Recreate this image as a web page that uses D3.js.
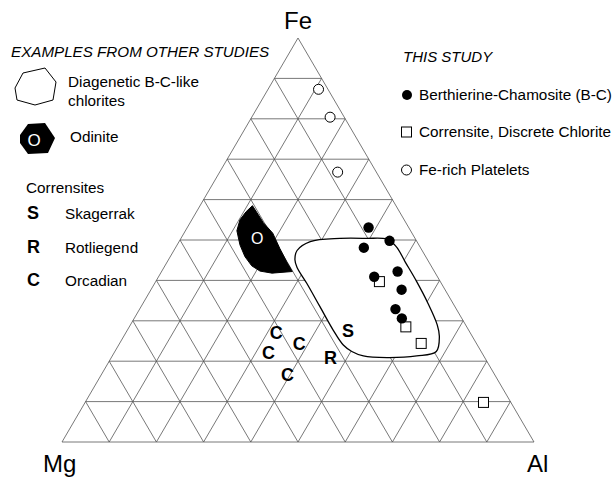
<!DOCTYPE html>
<meta charset="utf-8">
<script src="https://cdn.jsdelivr.net/npm/d3@7"></script>
<style>
  body { margin: 0; background: #fff; }
  text { font-family: "Liberation Sans", Arial, Helvetica, sans-serif; fill: #000; }
</style>
<div id="dataviz"></div>
<script>
// ternary values in percent, [Fe, Mg, Al]
var feRichPlatelets = [[87.3, 2.0, 10.7], [80.4, 3.0, 16.6], [66.8, 8.2, 25.0]];
var bcChlorites = [
  [53.1, 8.5, 38.4], [49.8, 5.7, 44.5], [48.1, 12.0, 39.9], [42.2, 7.8, 50.0],
  [40.9, 13.4, 45.7], [37.7, 9.2, 53.1], [32.9, 12.9, 54.2], [30.6, 12.7, 56.7]
];
var corrensites = [[39.7, 12.9, 47.4], [28.5, 12.9, 58.6], [24.4, 11.7, 63.9], [9.8, 5.8, 84.4]];
var otherStudies = [
  ["C", 27.2, 41.0, 31.8], ["C", 24.3, 37.6, 38.1], ["C", 22.1, 45.2, 32.7],
  ["C", 16.8, 43.8, 39.4], ["S", 27.6, 25.6, 46.8], ["R", 21.0, 32.6, 46.4]
];
// outlines as [Fe, Al] pairs (Mg = 100 - Fe - Al)
var odinite = [
  [58.5, 11.1], [54.3, 15.5], [51.7, 18.8], [47.9, 22.2], [44.6, 25.3], [42.2, 27.7],
  [41.8, 23.6], [42.3, 20.8], [43.6, 18.4], [45.9, 15.8], [48.8, 13.3], [52.3, 10.9],
  [55.0, 10.2], [57.0, 10.5]
];
var odiniteLabel = [50.5, 16.1];
var chloriteField = [
  [47.4, 26.1], [49.6, 27.8], [50.4, 33.7], [50.4, 39.3], [50.2, 43.7], [48.3, 46.7],
  [44.6, 50.4], [39.7, 55.3], [34.3, 60.4], [29.0, 65.0], [26.1, 66.9], [22.4, 68.1],
  [21.3, 64.5], [20.9, 58.4], [21.3, 53.2], [22.4, 50.2], [24.0, 47.6], [27.7, 43.6],
  [33.5, 37.9], [39.3, 32.2], [43.2, 28.2], [45.1, 26.8]
];
var vertexLabels = ["Fe", "Mg", "Al"];
var gridSteps = d3.range(10, 100, 10);

var W = 615, H = 477;
var svg = d3.select("#dataviz").append("svg").attr("width", W).attr("height", H);

// cartesian scales for the ternary frame
var x = d3.scaleLinear().domain([0, 100]).range([62, 534]);
var y = d3.scaleLinear().domain([0, 100]).range([442, 38]);
function px(fe, al) { return [x(al + fe / 2), y(fe)]; }

// grid
var grid = svg.append("g").attr("fill", "none").attr("stroke", "#555").attr("stroke-width", 0.8);
gridSteps.forEach(function(v) {
  var segs = [
    [px(v, 0), px(v, 100 - v)],           // constant Fe
    [px(0, v), px(100 - v, v)],           // constant Al
    [px(0, 100 - v), px(100 - v, 0)]      // constant Mg
  ];
  segs.forEach(function(s) {
    grid.append("line").attr("x1", s[0][0]).attr("y1", s[0][1]).attr("x2", s[1][0]).attr("y2", s[1][1]);
  });
});
grid.append("path").attr("d", d3.line()([px(100, 0), px(0, 0), px(0, 100)]) + "Z");

// vertex labels
svg.append("text").attr("x", x(50)).attr("y", 29).attr("text-anchor", "middle").style("font-size", "24px").text(vertexLabels[0]);
svg.append("text").attr("x", 43).attr("y", 472).style("font-size", "24px").text(vertexLabels[1]);
svg.append("text").attr("x", 527).attr("y", 472).style("font-size", "24px").text(vertexLabels[2]);

// fields
svg.append("path")
  .attr("d", d3.line().curve(d3.curveCatmullRomClosed.alpha(0.5))(chloriteField.map(function(d) { return px(d[0], d[1]); })))
  .attr("fill", "#fff").attr("stroke", "#000").attr("stroke-width", 1.3);
svg.append("path")
  .attr("d", d3.line().curve(d3.curveLinearClosed)(odinite.map(function(d) { return px(d[0], d[1]); })))
  .attr("fill", "#000").attr("stroke", "#000").attr("stroke-width", 1);
var oc = px(odiniteLabel[0], odiniteLabel[1]);
svg.append("text").attr("x", oc[0]).attr("y", oc[1]).attr("dy", "0.36em").attr("text-anchor", "middle")
  .style("font-size", "16px").style("fill", "#fff").text("O");

// this study
svg.append("g").selectAll("rect").data(corrensites).enter().append("rect")
  .attr("x", function(d) { return px(d[0], d[2])[0] - 5; })
  .attr("y", function(d) { return px(d[0], d[2])[1] - 5; })
  .attr("width", 10).attr("height", 10)
  .attr("fill", "#fff").attr("stroke", "#000").attr("stroke-width", 1);
svg.append("g").selectAll("circle").data(feRichPlatelets).enter().append("circle")
  .attr("cx", function(d) { return px(d[0], d[2])[0]; })
  .attr("cy", function(d) { return px(d[0], d[2])[1]; })
  .attr("r", 5).attr("fill", "#fff").attr("stroke", "#000").attr("stroke-width", 1);
svg.append("g").selectAll("circle").data(bcChlorites).enter().append("circle")
  .attr("cx", function(d) { return px(d[0], d[2])[0]; })
  .attr("cy", function(d) { return px(d[0], d[2])[1]; })
  .attr("r", 5.2).attr("fill", "#000");

// other studies letters
svg.append("g").selectAll("text").data(otherStudies).enter().append("text")
  .attr("x", function(d) { return px(d[1], d[3])[0]; })
  .attr("y", function(d) { return px(d[1], d[3])[1]; })
  .attr("dy", "0.36em").attr("text-anchor", "middle")
  .style("font-size", "18px").style("font-weight", "bold")
  .text(function(d) { return d[0]; });

// left legend
svg.append("text").attr("x", 11).attr("y", 57).style("font-size", "15.2px").style("font-style", "italic")
  .text("EXAMPLES FROM OTHER STUDIES");
svg.append("path").attr("d", d3.line()([[15, 88], [23, 73], [45, 68], [56, 82], [53, 100], [35, 105], [17, 100]]) + "Z")
  .attr("fill", "none").attr("stroke", "#000").attr("stroke-width", 1);
svg.append("text").attr("x", 68).attr("y", 87).style("font-size", "15.3px").text("Diagenetic B-C-like");
svg.append("text").attr("x", 68).attr("y", 106).style("font-size", "15.3px").text("chlorites");
svg.append("path").attr("d", d3.line()([[20, 135], [28, 124], [45, 123], [55, 138], [48, 153], [28, 154], [20, 143]]) + "Z")
  .attr("fill", "#000");
svg.append("text").attr("x", 34).attr("y", 140).attr("dy", "0.36em").attr("text-anchor", "middle")
  .style("font-size", "17px").style("fill", "#fff").text("O");
svg.append("text").attr("x", 70).attr("y", 142).style("font-size", "15.3px").text("Odinite");
svg.append("text").attr("x", 26).attr("y", 193).style("font-size", "15.3px").text("Corrensites");
var letterKey = [["S", "Skagerrak"], ["R", "Rotliegend"], ["C", "Orcadian"]];
letterKey.forEach(function(d, i) {
  svg.append("text").attr("x", 27).attr("y", 219 + i * 33.5).style("font-size", "18px").style("font-weight", "bold").text(d[0]);
  svg.append("text").attr("x", 65).attr("y", 219 + i * 33.5).style("font-size", "15.3px").text(d[1]);
});

// right legend
svg.append("text").attr("x", 403).attr("y", 62).style("font-size", "15px").style("font-style", "italic").text("THIS STUDY");
svg.append("circle").attr("cx", 407).attr("cy", 95).attr("r", 5).attr("fill", "#000");
svg.append("text").attr("x", 419).attr("y", 100).style("font-size", "15.3px").text("Berthierine-Chamosite (B-C)");
svg.append("rect").attr("x", 401.5).attr("y", 127).attr("width", 10).attr("height", 10)
  .attr("fill", "#fff").attr("stroke", "#000").attr("stroke-width", 1);
svg.append("text").attr("x", 419).attr("y", 137).style("font-size", "15.3px").text("Corrensite, Discrete Chlorite");
svg.append("circle").attr("cx", 406.5).attr("cy", 170).attr("r", 5).attr("fill", "#fff").attr("stroke", "#000");
svg.append("text").attr("x", 419).attr("y", 175).style("font-size", "15.3px").text("Fe-rich Platelets");
</script>
